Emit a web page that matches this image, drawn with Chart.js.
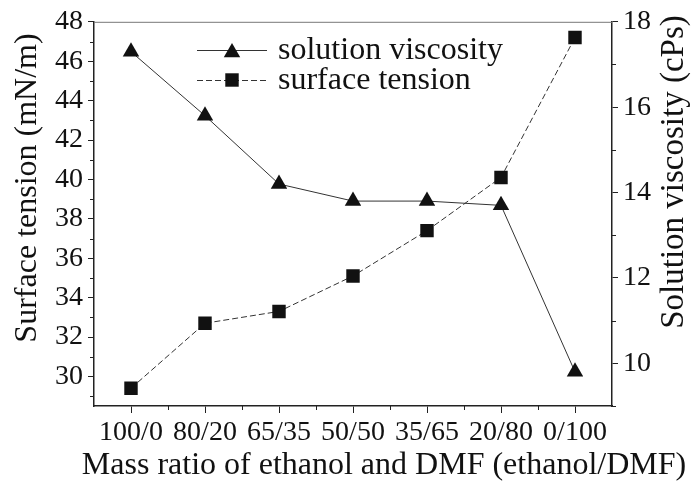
<!DOCTYPE html>
<html>
<head>
<meta charset="utf-8">
<script src="https://cdn.jsdelivr.net/npm/chart.js@4"></script>
<style>
  body { margin: 0; background: #fff; }
</style>
</head>
<body>
<canvas id="chart" width="698" height="481"></canvas>
<script>
// jshint esversion:6

const ratios = ["100/0", "80/20", "65/35", "50/50", "35/65", "20/80", "0/100"];
const surfaceTension = [29.4, 32.7, 33.3, 35.1, 37.4, 40.1, 47.2];
const viscosity = [17.3, 15.8, 14.2, 13.8, 13.8, 13.7, 9.8];
const tensionTicks = [30, 32, 34, 36, 38, 40, 42, 44, 46, 48];
const viscosityTicks = [10, 12, 14, 16, 18];

const serif = "'Liberation Serif', 'Times New Roman', serif";
const ink = "#111";

// minor ticks, top frame line, axis titles, legend
const extras = {
  id: "extras",
  afterDraw(chart) {
    const ctx = chart.ctx;
    const area = chart.chartArea;
    const x = chart.scales.x;
    const y = chart.scales.y;
    const y1 = chart.scales.y1;

    ctx.save();
    ctx.strokeStyle = "#222";
    ctx.lineWidth = 1;
    ctx.beginPath();
    for (let v = 29; v < 48; v += 2) {
      const p = Math.round(y.getPixelForValue(v)) + 0.5;
      ctx.moveTo(area.left - 4, p);
      ctx.lineTo(area.left, p);
    }
    for (let v = 9; v < 18; v += 2) {
      const p = Math.round(y1.getPixelForValue(v)) + 0.5;
      ctx.moveTo(area.right, p);
      ctx.lineTo(area.right + 4, p);
    }
    const half = (x.getPixelForValue(1) - x.getPixelForValue(0)) / 2;
    for (let i = 0; i < ratios.length - 1; i++) {
      const p = Math.round(x.getPixelForValue(i) + half) + 0.5;
      ctx.moveTo(p, area.bottom);
      ctx.lineTo(p, area.bottom + 4);
    }
    ctx.stroke();

    ctx.strokeStyle = "#777";
    ctx.beginPath();
    ctx.moveTo(area.left, area.top + 0.5);
    ctx.lineTo(area.right, area.top + 0.5);
    ctx.stroke();

    ctx.fillStyle = ink;
    ctx.textAlign = "center";
    ctx.textBaseline = "middle";
    ctx.font = "32px " + serif;
    ctx.save();
    ctx.translate(28, 188);
    ctx.rotate(-Math.PI / 2);
    ctx.fillText("Surface tension (mN/m)", 0, 0);
    ctx.restore();
    ctx.save();
    ctx.translate(674, 172);
    ctx.rotate(-Math.PI / 2);
    ctx.font = "33px " + serif;
    ctx.fillText("Solution viscosity (cPs)", 0, 0);
    ctx.restore();
    ctx.textBaseline = "alphabetic";
    ctx.fillText("Mass ratio of ethanol and DMF (ethanol/DMF)", 384, 474);

    // legend
    const lx = area.left + 103;
    const rows = [
      { label: "solution viscosity", shape: "triangle", dash: [], top: 50 },
      { label: "surface tension", shape: "rect", dash: [6, 3], top: 80 },
    ];
    rows.forEach((row) => {
      ctx.strokeStyle = "#333";
      ctx.setLineDash(row.dash);
      ctx.beginPath();
      ctx.moveTo(lx, row.top + 0.5);
      ctx.lineTo(lx + 70, row.top + 0.5);
      ctx.stroke();
      ctx.setLineDash([]);
      const cx = lx + 35;
      const r = 9.5;
      ctx.fillStyle = ink;
      ctx.beginPath();
      if (row.shape === "triangle") {
        const cy = row.top + r / 4;
        ctx.moveTo(cx, cy - r);
        ctx.lineTo(cx + 0.866 * r, cy + r / 2);
        ctx.lineTo(cx - 0.866 * r, cy + r / 2);
        ctx.closePath();
      } else {
        const s = Math.SQRT1_2 * r;
        ctx.rect(cx - s, row.top - s, 2 * s, 2 * s);
      }
      ctx.fill();
      ctx.font = "32px " + serif;
      ctx.textAlign = "left";
      ctx.textBaseline = "middle";
      ctx.fillText(row.label, lx + 81, row.top + 1);
    });
    ctx.restore();
  },
};

const ctx = document.getElementById("chart").getContext("2d");
const myChart = new Chart(ctx, {
  type: "line",
  data: {
    labels: ratios,
    datasets: [
      {
        label: "solution viscosity",
        data: viscosity,
        yAxisID: "y1",
        borderColor: "#333",
        borderWidth: 1,
        pointStyle: "triangle",
        pointRadius: 9.5,
        pointBackgroundColor: ink,
        pointBorderWidth: 0,
        fill: false,
      },
      {
        label: "surface tension",
        data: surfaceTension,
        yAxisID: "y",
        borderColor: "#333",
        borderWidth: 1,
        borderDash: [6, 3],
        pointStyle: "rect",
        pointRadius: 9.5,
        pointBackgroundColor: ink,
        pointBorderWidth: 0,
        fill: false,
      },
    ],
  },
  options: {
    responsive: false,
    animation: false,
    layout: { padding: { top: 21, left: 0, right: 0, bottom: 0 } },
    plugins: {
      legend: { display: false },
      tooltip: { enabled: false },
    },
    scales: {
      x: {
        type: "category",
        offset: true,
        grid: { drawOnChartArea: false, tickLength: 7, color: "#222" },
        border: { color: "#222", width: 1.5 },
        ticks: {
          color: ink,
          font: { family: serif, size: 28 },
          padding: 3,
          autoSkip: false,
          maxRotation: 0,
        },
        afterFit: (s) => { s.height = 75; },
      },
      y: {
        position: "left",
        min: 28.5,
        max: 48,
        afterBuildTicks: (s) => { s.ticks = tensionTicks.map((v) => ({ value: v })); },
        grid: { drawOnChartArea: false, tickLength: 6, color: "#222" },
        border: { color: "#222", width: 1.5 },
        ticks: { color: ink, font: { family: serif, size: 28 }, padding: 5 },
        afterFit: (s) => { s.width = 94; },
      },
      y1: {
        position: "right",
        min: 9,
        max: 18,
        afterBuildTicks: (s) => { s.ticks = viscosityTicks.map((v) => ({ value: v })); },
        grid: { drawOnChartArea: false, tickLength: 6, color: "#222" },
        border: { color: "#222", width: 1.5 },
        ticks: { color: ink, font: { family: serif, size: 28 }, padding: 5 },
        afterFit: (s) => { s.width = 86; },
      },
    },
  },
  plugins: [extras],
});
</script>
</body>
</html>
